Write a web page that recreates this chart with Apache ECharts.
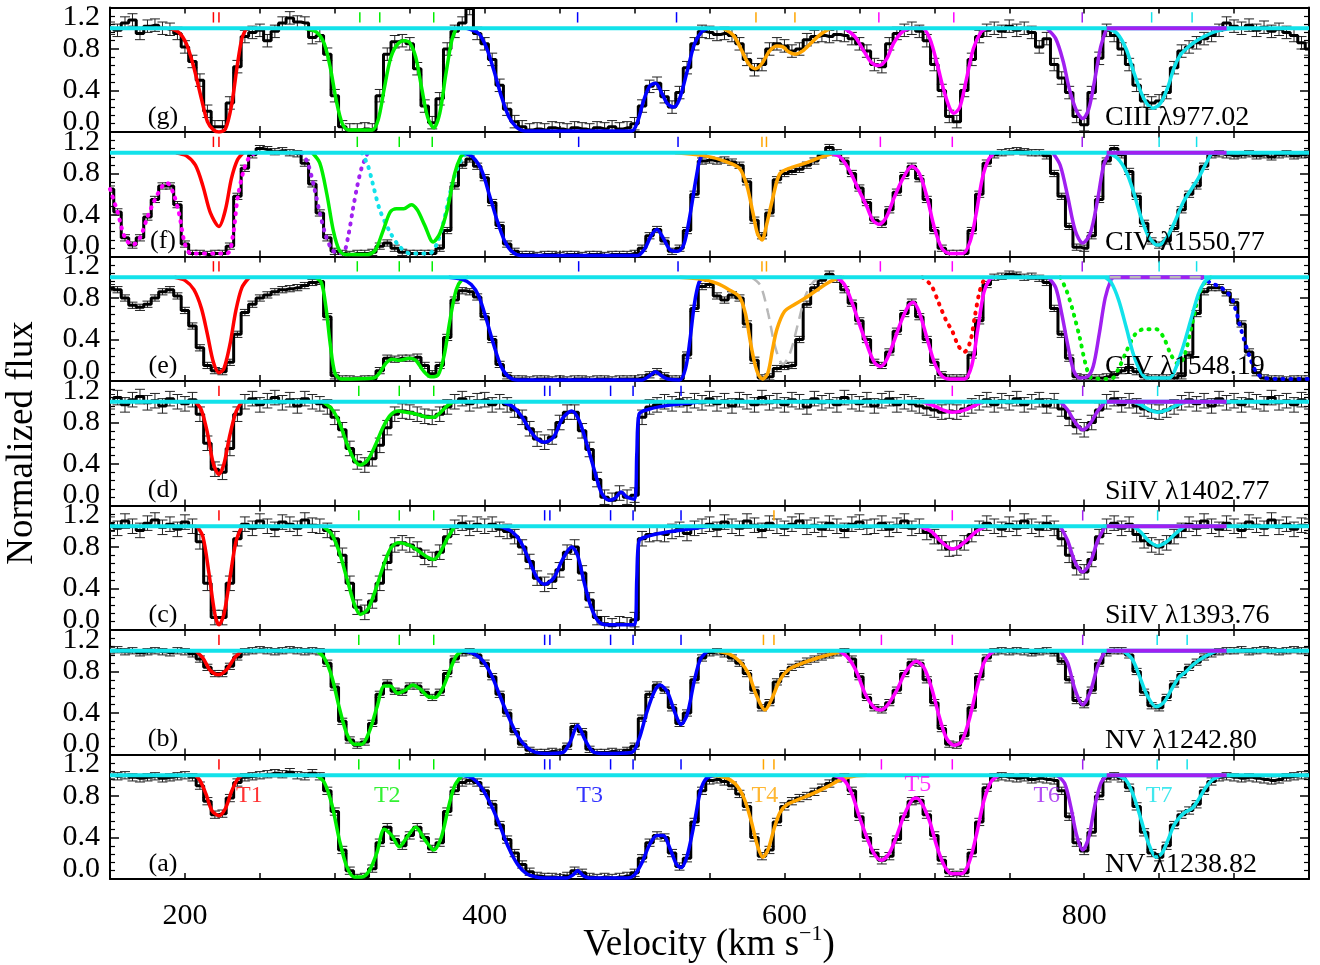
<!DOCTYPE html>
<html><head><meta charset="utf-8">
<script src="https://cdn.jsdelivr.net/npm/echarts@6/dist/echarts.min.js"></script>
<style>html,body{margin:0;padding:0;background:#fff}#c{width:1320px;height:965px}</style>
</head><body><div id="c"></div>
<script>
// ---------------- velocity grid (km/s) ----------------
const velocity = [
150,155,160,165,170,175,180,185,190,195,
200,205,210,215,220,225,230,235,240,245,
250,255,260,265,270,275,280,285,290,295,
300,305,310,315,320,325,330,335,340,345,
350,355,360,365,370,375,380,385,390,395,
400,405,410,415,420,425,430,435,440,445,
450,455,460,465,470,475,480,485,490,495,
500,505,510,515,520,525,530,535,540,545,
550,555,560,565,570,575,580,585,590,595,
600,605,610,615,620,625,630,635,640,645,
650,655,660,665,670,675,680,685,690,695,
700,705,710,715,720,725,730,735,740,745,
750,755,760,765,770,775,780,785,790,795,
800,805,810,815,820,825,830,835,840,845,
850,855,860,865,870,875,880,885,890,895,
900,905,910,915,920,925,930,935,940,945,
950];

// ---------------- observed normalized flux ----------------
const fluxG = [ // CIII 977.02
1.00,0.98,1.05,1.08,0.95,1.02,1.03,1.00,0.99,0.95,
0.82,0.68,0.50,0.20,0.05,0.05,0.28,0.63,0.92,0.96,
0.98,0.88,0.97,1.05,1.10,1.06,1.05,0.91,0.93,0.75,
0.35,0.05,0.02,0.02,0.03,0.02,0.35,0.75,0.87,0.88,
0.85,0.61,0.25,0.09,0.32,0.80,0.97,1.05,1.19,0.95,
0.85,0.70,0.45,0.22,0.10,0.05,0.02,0.03,0.02,0.04,
0.03,0.02,0.04,0.03,0.02,0.04,0.03,0.05,0.03,0.04,
0.08,0.25,0.44,0.47,0.34,0.24,0.38,0.62,0.85,0.97,
0.96,0.94,0.95,0.93,0.85,0.70,0.60,0.65,0.80,0.85,
0.83,0.78,0.80,0.89,0.92,0.93,0.92,0.94,0.93,0.90,
0.85,0.78,0.65,0.63,0.85,0.95,0.98,1.00,0.97,0.88,
0.65,0.40,0.15,0.10,0.40,0.70,0.92,0.98,1.00,0.97,
1.02,0.98,1.00,0.96,0.82,0.90,0.65,0.52,0.38,0.15,
0.07,0.38,0.71,0.98,0.93,0.80,0.65,0.45,0.30,0.28,
0.30,0.38,0.62,0.78,0.82,0.86,0.90,0.93,0.98,1.05,
1.02,1.00,1.03,0.98,1.01,0.97,0.99,0.96,0.93,0.86,
0.80];
const fluxF = [ // CIV 1550.77
0.65,0.43,0.18,0.11,0.18,0.38,0.55,0.68,0.68,0.50,
0.12,0.03,0.03,0.02,0.03,0.03,0.10,0.58,0.85,0.98,
1.04,1.03,1.01,1.02,1.00,0.99,0.90,0.70,0.42,0.18,
0.05,0.03,0.02,0.03,0.03,0.04,0.10,0.13,0.08,0.04,
0.03,0.03,0.03,0.03,0.08,0.25,0.68,0.88,0.94,0.87,
0.76,0.52,0.30,0.12,0.05,0.02,0.02,0.01,0.02,0.02,
0.01,0.02,0.02,0.01,0.02,0.02,0.01,0.02,0.02,0.02,
0.03,0.08,0.20,0.26,0.15,0.05,0.08,0.25,0.60,0.92,
0.93,0.92,0.93,0.91,0.88,0.72,0.35,0.20,0.42,0.74,
0.80,0.82,0.84,0.88,0.92,0.98,1.05,1.00,0.92,0.80,
0.66,0.52,0.35,0.31,0.45,0.62,0.78,0.87,0.75,0.55,
0.25,0.08,0.03,0.03,0.03,0.25,0.60,0.90,0.98,1.00,
1.01,1.02,1.01,1.00,1.00,0.97,0.80,0.58,0.29,0.09,
0.08,0.20,0.55,0.92,1.04,0.98,0.82,0.58,0.32,0.15,
0.11,0.15,0.27,0.45,0.60,0.68,0.87,0.98,0.99,0.98,
0.97,0.98,0.99,0.97,0.98,0.96,0.98,0.99,0.97,0.98,
0.99];
const fluxE = [ // CIV 1548.19
0.90,0.88,0.80,0.73,0.71,0.74,0.80,0.86,0.88,0.82,
0.68,0.53,0.32,0.15,0.10,0.09,0.18,0.45,0.66,0.74,
0.80,0.83,0.86,0.88,0.89,0.90,0.92,0.95,0.96,0.62,
0.05,0.02,0.02,0.01,0.02,0.02,0.10,0.22,0.21,0.22,
0.22,0.23,0.15,0.07,0.15,0.42,0.78,0.87,0.86,0.81,
0.62,0.40,0.16,0.05,0.02,0.02,0.01,0.02,0.02,0.01,
0.02,0.01,0.02,0.02,0.01,0.02,0.02,0.01,0.02,0.02,
0.02,0.03,0.06,0.09,0.05,0.02,0.02,0.25,0.70,0.91,
0.93,0.82,0.78,0.83,0.80,0.55,0.20,0.03,0.04,0.12,
0.14,0.15,0.40,0.74,0.90,0.97,1.03,0.98,0.88,0.75,
0.58,0.40,0.18,0.15,0.28,0.48,0.65,0.76,0.62,0.40,
0.18,0.06,0.03,0.03,0.03,0.25,0.58,0.93,1.00,1.01,
1.03,1.02,1.00,1.01,0.99,0.95,0.70,0.45,0.22,0.04,
0.03,0.03,0.03,0.04,0.06,0.10,0.13,0.09,0.04,0.03,
0.03,0.03,0.03,0.05,0.25,0.65,0.86,0.90,0.90,0.85,
0.76,0.55,0.28,0.08,0.03,0.02,0.02,0.01,0.02,0.02,
0.02];
const fluxD = [ // SiIV 1402.77
1.00,1.04,0.97,1.02,1.05,0.99,1.01,0.96,1.03,1.00,
0.98,1.02,0.88,0.60,0.35,0.32,0.55,0.88,1.00,1.03,
0.97,1.01,1.04,0.99,1.02,0.96,1.03,1.00,0.98,0.95,
0.85,0.73,0.55,0.42,0.39,0.45,0.58,0.75,0.88,0.91,
0.90,0.88,0.86,0.85,0.88,0.95,1.00,1.03,0.98,1.01,
1.02,0.97,1.00,0.97,0.92,0.85,0.74,0.64,0.61,0.66,
0.80,0.90,0.90,0.72,0.54,0.25,0.08,0.05,0.12,0.08,
0.10,0.85,0.95,0.97,1.00,0.98,1.02,0.97,1.01,0.99,
1.03,0.98,1.01,0.96,1.02,1.00,0.97,1.04,0.99,1.01,
0.97,1.02,1.00,0.95,1.03,0.99,1.01,0.97,1.04,1.00,
0.98,1.02,0.96,1.01,1.03,0.97,1.00,0.98,0.96,0.94,
0.92,0.90,0.91,0.90,0.93,0.96,0.99,1.02,0.97,1.01,
0.99,1.03,0.97,1.00,1.02,0.96,1.01,0.93,0.84,0.76,
0.73,0.80,0.92,1.00,1.03,0.97,1.01,0.96,0.93,0.91,
0.90,0.92,0.95,0.99,1.02,0.98,1.01,0.96,1.03,0.99,
1.01,0.97,1.02,1.00,0.98,1.04,0.99,1.01,0.97,1.02,
1.00];
const fluxC = [ // SiIV 1393.76
1.02,0.98,1.05,1.00,0.96,1.03,1.06,0.99,1.02,0.97,
1.04,1.00,0.85,0.45,0.12,0.12,0.45,0.88,1.02,0.98,
1.05,1.00,0.97,1.04,1.02,0.98,1.06,1.01,1.00,0.96,
0.88,0.72,0.45,0.22,0.17,0.28,0.45,0.65,0.82,0.84,
0.82,0.78,0.70,0.68,0.75,0.90,0.99,1.03,0.98,1.02,
1.00,1.02,0.97,0.95,0.90,0.80,0.66,0.50,0.44,0.47,
0.58,0.75,0.80,0.55,0.29,0.12,0.06,0.04,0.06,0.05,
0.10,0.88,0.92,0.93,0.92,0.95,0.97,0.93,0.98,1.00,
1.02,0.97,1.04,1.00,0.98,1.05,1.01,0.96,1.03,1.00,
0.98,1.02,1.05,0.99,1.01,0.97,1.03,1.00,0.96,1.02,
1.04,0.99,1.00,1.03,0.97,1.01,1.05,0.98,1.00,0.94,
0.90,0.84,0.78,0.79,0.84,0.92,0.98,1.03,1.00,0.97,
1.02,0.98,1.05,1.00,0.97,1.03,0.98,0.88,0.72,0.60,
0.56,0.68,0.90,1.00,1.03,0.98,1.02,0.92,0.86,0.82,
0.80,0.84,0.90,0.96,1.02,0.98,1.05,1.00,0.97,1.03,
1.00,0.96,1.04,1.01,0.98,1.06,0.99,1.02,0.97,1.01,
1.00];
const fluxB = [ // NV 1242.80
1.00,1.01,0.99,1.00,0.98,0.99,1.00,0.99,0.98,1.00,
0.99,0.97,0.92,0.84,0.78,0.78,0.85,0.94,0.99,1.00,
1.01,1.00,0.99,1.00,1.01,1.00,0.99,1.00,0.99,0.88,
0.65,0.32,0.14,0.09,0.12,0.30,0.58,0.69,0.61,0.60,
0.66,0.66,0.60,0.55,0.60,0.78,0.92,0.98,0.99,0.96,
0.88,0.75,0.58,0.40,0.22,0.10,0.04,0.02,0.02,0.03,
0.02,0.08,0.27,0.22,0.05,0.02,0.02,0.03,0.02,0.04,
0.08,0.35,0.58,0.67,0.62,0.45,0.30,0.40,0.72,0.93,
0.98,0.99,0.97,0.93,0.88,0.78,0.62,0.45,0.50,0.70,
0.78,0.84,0.87,0.90,0.92,0.94,0.96,0.98,0.99,0.92,
0.75,0.55,0.45,0.43,0.50,0.62,0.78,0.89,0.88,0.72,
0.50,0.25,0.10,0.09,0.18,0.45,0.75,0.93,0.99,1.00,
0.99,1.00,0.99,0.98,0.99,1.00,0.98,0.90,0.72,0.52,
0.48,0.62,0.88,0.98,1.00,1.00,0.96,0.80,0.60,0.47,
0.45,0.55,0.68,0.77,0.84,0.89,0.94,0.97,0.99,1.00,
1.00,1.01,0.99,1.00,1.01,1.00,0.99,1.00,1.01,1.00,
1.00];
const fluxA = [ // NV 1238.82
1.00,0.99,1.00,0.98,0.97,0.98,0.99,0.97,0.98,0.99,
1.00,0.98,0.90,0.75,0.62,0.63,0.78,0.93,0.98,0.99,
1.00,1.01,1.02,1.01,1.03,1.00,0.99,1.02,0.99,0.85,
0.65,0.28,0.08,0.01,0.02,0.10,0.35,0.50,0.38,0.32,
0.42,0.50,0.40,0.29,0.35,0.65,0.85,0.93,0.95,0.93,
0.85,0.72,0.52,0.38,0.25,0.14,0.07,0.03,0.02,0.02,
0.01,0.03,0.08,0.06,0.02,0.01,0.02,0.01,0.02,0.03,
0.06,0.20,0.35,0.42,0.40,0.25,0.12,0.20,0.55,0.85,
0.95,0.96,0.94,0.90,0.82,0.70,0.40,0.22,0.28,0.55,
0.70,0.75,0.78,0.80,0.84,0.88,0.92,0.97,0.98,0.85,
0.60,0.40,0.25,0.18,0.22,0.38,0.60,0.75,0.76,0.62,
0.42,0.18,0.06,0.04,0.06,0.25,0.55,0.88,0.98,0.99,
0.98,0.97,0.98,0.96,0.97,0.96,0.95,0.85,0.60,0.35,
0.27,0.45,0.80,0.97,0.99,0.97,0.88,0.70,0.45,0.25,
0.21,0.32,0.52,0.62,0.66,0.72,0.85,0.94,0.98,0.99,
0.98,0.97,0.98,0.97,0.96,0.95,0.96,0.98,0.99,1.00,
1.01];

// 1-sigma flux errors per panel
const errG = 0.06, errF = 0.03, errE = 0.03, errD = 0.07, errC = 0.07, errB = 0.03, errA = 0.035;

// ---------------- model component profiles [velocity, flux] ----------------
const redG = [[190,1],[196,0.96],[201,0.85],[206,0.62],[211,0.32],[215,0.10],[219,0.02],[222.7,0.0],[227,0.03],[231,0.25],[235,0.65],[238,0.90],[241,1]];
const greenG = [[280,1],[288,0.96],[293,0.85],[297,0.62],[301,0.30],[305,0.08],[309,0.02],[325,0.02],[329,0.12],[333,0.42],[337,0.70],[341,0.83],[346,0.88],[350,0.86],[354,0.72],[358,0.42],[362,0.14],[366,0.04],[370,0.18],[374,0.55],[378,0.88],[381,1]];
const blueG = [[388,1],[396,0.95],[401,0.82],[406,0.60],[411,0.35],[416,0.15],[421,0.05],[427,0.01],[498,0.01],[502,0.10],[506,0.30],[510,0.44],[514,0.47],[518,0.38],[522,0.27],[526,0.24],[530,0.32],[535,0.58],[540,0.85],[545,0.97],[549,1]];
const orangeG = [[559,1],[566,0.93],[571,0.80],[576,0.66],[580.7,0.61],[585,0.66],[590,0.78],[595,0.83],[599,0.82],[603,0.77],[607,0.75],[612,0.78],[618,0.86],[624,0.94],[631,1]];
const magentaG = [[640,1],[647,0.92],[653,0.78],[658,0.67],[663,0.64],[668,0.70],[673,0.86],[679,0.97],[685,1],[692,1],[697,0.90],[702,0.65],[706,0.42],[710,0.24],[713,0.18],[717,0.24],[721,0.48],[726,0.80],[731,0.96],[735,1]];
const purpleG = [[775,1],[781,0.90],[786,0.68],[790,0.42],[795,0.20],[799,0.13],[803,0.22],[807,0.50],[811,0.82],[815,1]];
const cyanG = [[815,1],[822,0.95],[828,0.80],[833,0.58],[838,0.38],[842,0.27],[846,0.23],[851,0.28],[856,0.44],[860,0.62],[864,0.74],[868,0.80],[873,0.86],[880,0.92],[888,0.97],[899,1]];

const redF = [[194,1],[201,0.97],[207,0.88],[212,0.68],[217,0.42],[222.7,0.29],[227,0.45],[231,0.75],[235,0.93],[239,1]];
const greenF = [[285,1],[290,0.90],[294.7,0.60],[299,0.25],[303,0.06],[307,0.02],[322,0.02],[327,0.06],[332,0.24],[337,0.43],[341,0.46],[346,0.46],[351,0.50],[355,0.45],[360,0.30],[365.6,0.14],[370,0.22],[375,0.45],[380,0.80],[384,0.96],[387,1]];
const blueF = [[386,1],[392,0.96],[398,0.83],[403,0.60],[408,0.36],[413,0.16],[418,0.05],[424,0.01],[502,0.01],[507,0.08],[511,0.20],[515,0.26],[519,0.18],[524,0.06],[529,0.05],[533,0.12],[537,0.40],[541,0.75],[544,0.95],[548,1]];
const orangeF = [[527,1],[547,0.97],[560,0.92],[570,0.85],[575,0.68],[579,0.42],[582,0.22],[585,0.16],[588,0.30],[592,0.55],[597,0.80],[605,0.86],[614,0.90],[623,0.95],[632,0.99],[640,1]];
const magentaF = [[630,1],[637,0.96],[643,0.84],[649,0.66],[655,0.48],[659,0.35],[663,0.31],[668,0.38],[673,0.56],[679,0.75],[685,0.87],[690,0.80],[695,0.58],[700,0.28],[705,0.08],[710,0.03],[719,0.03],[724,0.15],[728,0.42],[732,0.75],[736,0.93],[740,1]];
const purpleF = [[779,1],[784,0.88],[789,0.58],[794,0.25],[799,0.13],[804,0.22],[809,0.55],[813,0.88],[817,1]];
const cyanF = [[815,1],[822,0.95],[828,0.82],[833,0.62],[837,0.42],[842,0.22],[847,0.12],[850,0.11],[855,0.18],[860,0.32],[866,0.52],[872,0.66],[876,0.75],[880,0.86],[885,1]];
const magentaDotF = [[150,0.65],[155,0.43],[160,0.18],[165,0.11],[170,0.18],[175,0.38],[180,0.55],[185,0.68],[188,0.71],[192,0.62],[196,0.42],[200,0.12],[204,0.03],[228,0.03],[232,0.20],[235,0.55],[239,0.82],[243,0.96],[247,1]];
const purpleDotF = [[278,1],[282,0.90],[286,0.68],[290,0.42],[294,0.20],[298,0.07],[302,0.03],[306,0.04],[309,0.20],[312,0.45],[315,0.68],[318,0.86],[322,1]];
const cyanDotF = [[318,1],[322,0.88],[325,0.72],[330,0.45],[337,0.23],[343,0.10],[350,0.03],[363,0.03],[368,0.12],[372,0.30],[377,0.62],[381,0.82],[385,0.95],[388,1]];

const redE = [[193,1],[200,0.97],[206,0.88],[211,0.70],[215,0.45],[219,0.18],[222.7,0.08],[226,0.12],[230,0.35],[234,0.68],[238,0.90],[243,1]];
const greenE = [[287,1],[291,0.95],[294,0.72],[297,0.35],[300,0.08],[304,0.02],[326,0.03],[330,0.08],[334,0.17],[338,0.21],[343,0.20],[350,0.22],[354,0.20],[359,0.10],[364,0.04],[369,0.06],[373,0.25],[377,0.60],[381,0.88],[385,0.98],[389,1]];
const blueE = [[376,1],[385,0.98],[391,0.93],[396,0.82],[401,0.60],[406,0.35],[411,0.14],[416,0.04],[422,0.01],[505,0.01],[510,0.05],[514,0.09],[518,0.05],[522,0.02],[530,0.01],[534,0.12],[537,0.40],[540,0.75],[543,0.95],[546,1]];
const orangeE = [[530,1],[545,0.98],[555,0.94],[563,0.88],[570,0.81],[574,0.65],[577,0.40],[580,0.18],[583,0.05],[585.6,0.02],[589,0.08],[592,0.30],[595,0.50],[600,0.67],[607,0.74],[615,0.81],[623,0.89],[632,0.97],[640,1]];
const magentaE = [[635,1],[640,0.93],[645,0.76],[650,0.55],[655,0.35],[660,0.18],[664,0.14],[668,0.20],[673,0.38],[678,0.58],[683,0.73],[686,0.76],[690,0.66],[695,0.42],[700,0.18],[705,0.05],[710,0.02],[720,0.02],[725,0.15],[729,0.50],[733,0.85],[737,0.98],[740,1]];
const purpleE = [[776,1],[781,0.90],[785,0.65],[789,0.35],[793,0.10],[797,0.03],[802,0.04],[806,0.14],[810,0.45],[814,0.80],[818,0.98],[820,1]];
const cyanE = [[814,1],[818,0.95],[823,0.78],[828,0.52],[833,0.25],[838,0.08],[842,0.03],[857,0.03],[861,0.12],[866,0.33],[871,0.58],[876,0.83],[880,0.95],[884,1]];
const grayDashE = [[578,1],[584,0.92],[589,0.66],[594,0.32],[599,0.16],[604,0.28],[609,0.55],[614,0.82],[619,0.95],[624,1]];
const redDotE = [[692,1],[698,0.92],[703,0.75],[708,0.58],[712,0.48],[716,0.34],[720,0.28],[724,0.38],[727,0.62],[730,0.85],[733,0.97],[736,1]];
const greenDotE = [[784,1],[788,0.88],[792,0.70],[797,0.42],[801,0.16],[805,0.03],[818,0.02],[823,0.12],[828,0.28],[834,0.45],[840,0.50],[848,0.50],[853,0.42],[858,0.25],[863,0.16],[867,0.25],[872,0.55],[877,0.85],[882,0.98],[885,1]];
const blueDotE = [[878,1],[884,0.95],[890,0.91],[895,0.86],[899,0.78],[905,0.48],[910,0.25],[915,0.08],[920,0.03],[930,0.02],[950,0.02]];

const redD = [[207,1],[211,0.92],[215,0.70],[219,0.40],[222.7,0.30],[226,0.40],[230,0.68],[234,0.90],[238,1]];
const greenD = [[292,1],[298,0.93],[303,0.80],[308,0.60],[313,0.44],[317,0.39],[322,0.44],[327,0.58],[332,0.75],[337,0.87],[342,0.91],[347,0.90],[352,0.89],[357,0.87],[362,0.85],[366,0.85],[370,0.89],[375,0.96],[379,1]];
const blueD = [[412,1],[419,0.95],[425,0.85],[430,0.73],[435,0.64],[440,0.61],[446,0.66],[452,0.84],[458,0.91],[463,0.82],[468,0.60],[473,0.35],[478,0.12],[483,0.05],[487,0.07],[491,0.13],[495,0.08],[500,0.06],[501.5,0.5],[503,0.88],[510,0.93],[525,0.97],[545,1]];
const magentaD = [[692,1],[700,0.96],[706,0.92],[712,0.90],[718,0.91],[725,0.95],[732,1]];
const purpleD = [[784,1],[789,0.92],[794,0.80],[799,0.73],[804,0.79],[809,0.91],[814,1]];
const cyanD = [[833,1],[839,0.96],[844,0.92],[849,0.90],[855,0.92],[861,0.96],[867,1]];

const redC = [[208,1],[212,0.90],[216,0.55],[220,0.15],[222.7,0.05],[226,0.15],[230,0.50],[234,0.85],[238,1]];
const greenC = [[292,1],[298,0.92],[303,0.75],[308,0.50],[313,0.25],[317,0.15],[322,0.20],[327,0.38],[332,0.60],[337,0.78],[342,0.84],[347,0.83],[352,0.80],[357,0.75],[362,0.70],[366,0.68],[370,0.74],[375,0.88],[380,1]];
const blueC = [[410,1],[418,0.95],[424,0.85],[430,0.66],[435,0.50],[440,0.44],[446,0.50],[452,0.68],[458,0.80],[462,0.72],[466,0.48],[471,0.22],[476,0.08],[481,0.05],[500,0.05],[501.5,0.5],[503,0.86],[508,0.90],[520,0.94],[535,0.97],[550,1]];
const magentaC = [[690,1],[698,0.95],[704,0.86],[709,0.80],[712,0.78],[716,0.80],[722,0.87],[728,0.95],[735,1]];
const purpleC = [[784,1],[789,0.86],[794,0.65],[799,0.56],[804,0.65],[809,0.86],[814,1]];
const cyanC = [[833,1],[838,0.94],[843,0.86],[849,0.81],[855,0.85],[861,0.93],[867,1]];

const redB = [[207,1],[212,0.93],[217,0.81],[222.7,0.77],[228,0.82],[233,0.93],[238,1]];
const greenB = [[288,1],[293,0.93],[298,0.75],[303,0.45],[308,0.20],[313,0.10],[318,0.10],[323,0.22],[328,0.45],[333,0.66],[337,0.66],[342,0.59],[347,0.62],[352,0.67],[357,0.63],[362,0.56],[367,0.55],[372,0.64],[377,0.82],[381,0.95],[385,1]];
const blueB = [[386,1],[393,0.97],[399,0.90],[405,0.75],[410,0.57],[416,0.36],[422,0.18],[428,0.07],[434,0.02],[440,0.01],[452,0.02],[457,0.12],[462,0.28],[467,0.14],[472,0.03],[478,0.01],[498,0.02],[503,0.15],[508,0.40],[513,0.60],[517,0.67],[522,0.60],[527,0.40],[531,0.29],[535,0.38],[540,0.72],[544,0.92],[549,1]];
const orangeB = [[553,1],[563,0.97],[570,0.90],[576,0.78],[581,0.58],[587,0.43],[592,0.55],[597,0.72],[603,0.82],[612,0.88],[622,0.93],[632,0.97],[640,1]];
const magentaB = [[636,1],[642,0.94],[648,0.80],[654,0.58],[660,0.45],[664.5,0.43],[669,0.48],[675,0.62],[681,0.80],[688,0.90],[693,0.84],[698,0.65],[703,0.38],[708,0.16],[713,0.09],[718,0.12],[723,0.32],[728,0.62],[733,0.88],[738,0.98],[742,1]];
const purpleB = [[784,1],[789,0.88],[794,0.62],[799,0.48],[804,0.60],[809,0.85],[814,1]];
const cyanB = [[826,1],[832,0.92],[837,0.75],[842,0.57],[848,0.46],[853,0.50],[858,0.62],[863,0.74],[868,0.80],[873,0.87],[880,0.94],[887,0.99],[892,1]];

const redA = [[207,1],[210,0.95],[214,0.82],[218,0.66],[222.7,0.61],[227,0.68],[231,0.84],[235,0.96],[238,1]];
const greenA = [[288,1],[293,0.93],[298,0.72],[303,0.38],[308,0.12],[313,0.02],[318,0.02],[323,0.08],[328,0.25],[333,0.48],[338,0.42],[343,0.31],[348,0.40],[354,0.50],[360,0.38],[366,0.28],[371,0.40],[376,0.70],[380,0.90],[385,1]];
const blueA = [[385,1],[392,0.97],[398,0.88],[404,0.72],[410,0.52],[416,0.30],[422,0.14],[428,0.05],[434,0.02],[440,0.01],[455,0.01],[459,0.04],[462,0.08],[466,0.03],[470,0.01],[495,0.01],[500,0.04],[505,0.16],[510,0.33],[515,0.42],[519,0.42],[524,0.28],[528,0.14],[531,0.11],[535,0.22],[540,0.55],[544,0.85],[548,0.97],[555,1]];
const orangeA = [[550,1],[560,0.98],[567,0.92],[573,0.78],[578,0.55],[582,0.32],[585.6,0.21],[589,0.28],[593,0.48],[597,0.64],[602,0.72],[610,0.77],[620,0.83],[630,0.90],[638,0.96],[648,0.995],[655,1]];
const magentaA = [[633,1],[640,0.95],[645,0.82],[650,0.60],[655,0.40],[660,0.24],[664.7,0.18],[670,0.25],[675,0.42],[680,0.62],[685,0.76],[688,0.78],[692,0.72],[697,0.55],[702,0.30],[707,0.12],[712,0.05],[718,0.05],[723,0.15],[728,0.42],[733,0.75],[738,0.94],[743,1]];
const purpleA = [[782,1],[787,0.92],[791,0.70],[795,0.42],[799,0.28],[803,0.40],[807,0.70],[811,0.92],[815,1]];
const cyanA = [[822,1],[828,0.95],[833,0.80],[838,0.57],[843,0.34],[848,0.21],[852,0.25],[856,0.38],[860,0.52],[864,0.60],[868,0.65],[872,0.68],[876,0.76],[881,0.88],[886,0.96],[892,1]];

// continuum and flat T6 level
const continuum = [[150,1],[950,1]];
const purpleFlat = [[815,1],[895,1]];
const purpleFlatE = [[817,1],[880,1]];

// component velocity marks
const ticksG = [[219,'red'],[222.7,'red'],[316.7,'green'],[330,'green'],[366,'green'],[462,'blue'],[528,'blue'],[581,'orange'],[607,'orange'],[663,'magenta'],[713,'magenta'],[798.7,'purple'],[845,'cyan'],[872,'cyan']];
const ticksCIV = [[219,'red'],[222.7,'red'],[315,'green'],[343,'green'],[365,'green'],[462.7,'blue'],[529,'blue'],[585,'orange'],[588,'orange'],[664,'magenta'],[712,'magenta'],[798.7,'purple'],[850,'cyan'],[875,'cyan']];
const ticksD = [[222.7,'red'],[316,'green'],[343,'green'],[366,'green'],[440,'blue'],[443.5,'blue'],[484,'blue'],[499,'blue'],[531,'blue'],[712,'magenta'],[799,'purple'],[849,'cyan']];
const ticksC = [[222.7,'red'],[316,'green'],[343,'green'],[366,'green'],[440,'blue'],[443.5,'blue'],[484,'blue'],[499,'blue'],[531,'blue'],[593,'orange'],[712,'magenta'],[799,'purple'],[849,'cyan']];
const ticksNV = [[222.7,'red'],[316,'green'],[343,'green'],[366,'green'],[440,'blue'],[443.5,'blue'],[484,'blue'],[499,'blue'],[531,'blue'],[586,'orange'],[593,'orange'],[664.7,'magenta'],[712,'magenta'],[799,'purple'],[848.7,'cyan'],[868.7,'cyan']];

const compLabels = [
  {t:'T1', v:243, f:0.80, c:'red'}, {t:'T2', v:335, f:0.80, c:'green'},
  {t:'T3', v:470, f:0.80, c:'blue'}, {t:'T4', v:587, f:0.80, c:'orange'},
  {t:'T5', v:689, f:0.91, c:'magenta'}, {t:'T6', v:775, f:0.80, c:'purple'},
  {t:'T7', v:850, f:0.80, c:'cyan'}];

const panelLetters = ['(g)','(f)','(e)','(d)','(c)','(b)','(a)'];
const ionLabels = ['CIII \u03bb977.02','CIV \u03bb1550.77','CIV \u03bb1548.19','SiIV \u03bb1402.77','SiIV \u03bb1393.76','NV \u03bb1242.80','NV \u03bb1238.82'];

// ---------------- build ----------------
const COLORS = {red:'#ff0000', green:'#00ee00', blue:'#0000ff', orange:'#ffa500', magenta:'#ff00ff', purple:'#a020f0', cyan:'#12e2ea', gray:'#b8b8b8'};
const FONT = 'Liberation Serif';
const GL = 110, GW = 1199, T0 = 7.5, PH = 124.5;

const panels = [
 {flux:fluxG, err:errG, ticks:ticksG, models:[[redG,'red'],[greenG,'green'],[blueG,'blue'],[orangeG,'orange'],[magentaG,'magenta'],[purpleG,'purple']], cyan:cyanG, extras:[], flatE:false},
 {flux:fluxF, err:errF, ticks:ticksCIV, models:[[redF,'red'],[greenF,'green'],[blueF,'blue'],[orangeF,'orange'],[magentaF,'magenta'],[purpleF,'purple']], cyan:cyanF, extras:[[magentaDotF,'magenta','dot'],[purpleDotF,'purple','dot'],[cyanDotF,'cyan','dot']], flatE:false},
 {flux:fluxE, err:errE, ticks:ticksCIV, models:[[redE,'red'],[greenE,'green'],[blueE,'blue'],[orangeE,'orange'],[magentaE,'magenta'],[purpleE,'purple']], cyan:cyanE, extras:[[grayDashE,'gray','dash'],[redDotE,'red','dot'],[greenDotE,'green','dot'],[blueDotE,'blue','dot']], flatE:true},
 {flux:fluxD, err:errD, ticks:ticksD, models:[[redD,'red'],[greenD,'green'],[blueD,'blue'],[magentaD,'magenta'],[purpleD,'purple']], cyan:cyanD, extras:[], flatE:false},
 {flux:fluxC, err:errC, ticks:ticksC, models:[[redC,'red'],[greenC,'green'],[blueC,'blue'],[magentaC,'magenta'],[purpleC,'purple']], cyan:cyanC, extras:[], flatE:false},
 {flux:fluxB, err:errB, ticks:ticksNV, models:[[redB,'red'],[greenB,'green'],[blueB,'blue'],[orangeB,'orange'],[magentaB,'magenta'],[purpleB,'purple']], cyan:cyanB, extras:[], flatE:false},
 {flux:fluxA, err:errA, ticks:ticksNV, models:[[redA,'red'],[greenA,'green'],[blueA,'blue'],[orangeA,'orange'],[magentaA,'magenta'],[purpleA,'purple']], cyan:cyanA, extras:[], flatE:false}
];

const grids=[], xAxes=[], yAxes=[], series=[], graphics=[];
const axisLineStyle = {color:'#000', width:2};

panels.forEach((p,k)=>{
  const top = T0 + k*PH;
  grids.push({left:GL, top:top, width:GW, height:PH});
  const last = (k === panels.length-1);
  xAxes.push({type:'value', gridIndex:k, min:150, max:950, interval:50, position:'bottom',
    axisLine:{onZero:false, lineStyle:axisLineStyle},
    axisTick:{inside:true, length:6, lineStyle:{color:'#000', width:1.5}},
    axisLabel:{show:last, margin:22, fontFamily:FONT, fontSize:30, color:'#000',
      formatter: v => (Math.round(v)%200===0 ? String(Math.round(v)) : '')},
    splitLine:{show:false}});
  xAxes.push({type:'value', gridIndex:k, min:150, max:950, interval:50, position:'top',
    axisLine:{onZero:false, lineStyle:axisLineStyle},
    axisTick:{inside:true, length:6, lineStyle:{color:'#000', width:1.5}},
    axisLabel:{show:false}, splitLine:{show:false}});
  yAxes.push({type:'value', gridIndex:k, min:0, max:1.2, interval:0.4, position:'left',
    axisLine:{onZero:false, lineStyle:axisLineStyle},
    axisTick:{inside:true, length:9, lineStyle:{color:'#000', width:1.5}},
    minorTick:{show:true, splitNumber:5, length:5, lineStyle:{color:'#000', width:1.2}},
    axisLabel:{margin:10, fontFamily:FONT, fontSize:30, color:'#000',
      formatter: v => {
        const s = v.toFixed(1);
        if (Math.abs(v) < 1e-6) return '{lo|' + s + '}';
        if (Math.abs(v-1.2) < 1e-6) return '{hi|' + s + '}';
        return s;
      },
      rich:{lo:{fontFamily:FONT, fontSize:30, color:'#000', padding:[0,0,20,0]},
            hi:{fontFamily:FONT, fontSize:30, color:'#000', padding:[20,0,0,0]}}},
    splitLine:{show:false}, minorSplitLine:{show:false}});
  yAxes.push({type:'value', gridIndex:k, min:0, max:1.2, interval:0.4, position:'right',
    axisLine:{onZero:false, lineStyle:axisLineStyle},
    axisTick:{inside:true, length:9, lineStyle:{color:'#000', width:1.5}},
    minorTick:{show:true, splitNumber:5, length:5, lineStyle:{color:'#000', width:1.2}},
    axisLabel:{show:false}, splitLine:{show:false}});

  const xi = 2*k, yi = 2*k;
  const pts = velocity.map((v,i)=>[v, p.flux[i], p.err]);

  // error bars
  series.push({type:'custom', xAxisIndex:xi, yAxisIndex:yi, clip:true, silent:true, z:1,
    data: pts,
    renderItem:(params, api)=>{
      const v = api.value(0), f = api.value(1), e = api.value(2);
      const a = api.coord([v, f+e]), b = api.coord([v, f-e]);
      const hw = 5, st = {stroke:'#222', lineWidth:1};
      return {type:'group', children:[
        {type:'line', shape:{x1:a[0],y1:a[1],x2:b[0],y2:b[1]}, style:st},
        {type:'line', shape:{x1:a[0]-hw,y1:a[1],x2:a[0]+hw,y2:a[1]}, style:st},
        {type:'line', shape:{x1:b[0]-hw,y1:b[1],x2:b[0]+hw,y2:b[1]}, style:st}
      ]};
    }});
  // data histogram
  series.push({type:'line', xAxisIndex:xi, yAxisIndex:yi, data: pts.map(d=>[d[0],d[1]]),
    step:'middle', symbol:'none', silent:true, clip:true, z:2,
    lineStyle:{color:'#000', width:3}});
  // dotted / dashed other-line models
  p.extras.forEach(([d,c,t])=>{
    series.push({type:'line', xAxisIndex:xi, yAxisIndex:yi, data:d, symbol:'none', smooth:0.3, silent:true, clip:true, z:3,
      lineStyle:{color:COLORS[c], width: t==='dot'?4:2.5, type: t==='dot'?[1,7]:[11,7], cap: t==='dot'?'round':'butt'}});
  });
  // components
  p.models.forEach(([d,c])=>{
    series.push({type:'line', xAxisIndex:xi, yAxisIndex:yi, data:d, symbol:'none', smooth:0.3, silent:true, clip:true, z:4,
      lineStyle:{color:COLORS[c], width:3.5}});
  });
  // continuum
  series.push({type:'line', xAxisIndex:xi, yAxisIndex:yi, data:continuum, symbol:'none', silent:true, z:5,
    lineStyle:{color:COLORS.cyan, width:4}});
  // T7 model
  series.push({type:'line', xAxisIndex:xi, yAxisIndex:yi, data:p.cyan, symbol:'none', smooth:0.3, silent:true, clip:true, z:6,
    lineStyle:{color:COLORS.cyan, width:3.5}});
  // flat T6 level
  series.push({type:'line', xAxisIndex:xi, yAxisIndex:yi, data: p.flatE ? purpleFlatE : purpleFlat, symbol:'none', silent:true, z:7,
    lineStyle:{color:COLORS.purple, width:4}});
  if (p.flatE) {
    series.push({type:'line', xAxisIndex:xi, yAxisIndex:yi, data: purpleFlatE, symbol:'none', silent:true, z:8,
      lineStyle:{color:COLORS.gray, width:2.5, type:[11,9]}});
  }
  // component marks
  series.push({type:'custom', xAxisIndex:xi, yAxisIndex:yi, silent:true, z:9,
    data: p.ticks.map(([v,c])=>({value:[v,1.055,1.155], itemStyle:{color:COLORS[c]}})),
    renderItem:(params, api)=>{
      const a = api.coord([api.value(0), api.value(1)]), b = api.coord([api.value(0), api.value(2)]);
      return {type:'line', shape:{x1:a[0],y1:a[1],x2:b[0],y2:b[1]}, style:{stroke:api.visual('color'), lineWidth:1.5}};
    }});

  const bottom = top + PH;
  graphics.push({type:'text', x:163, y:bottom-15, style:{text:panelLetters[k], fontFamily:FONT, fontSize:26, fill:'#000', align:'center', verticalAlign:'middle'}, z:100});
  graphics.push({type:'text', x:1105, y:bottom-14, style:{text:ionLabels[k], fontFamily:FONT, fontSize:28, fill:'#000', align:'left', verticalAlign:'middle'}, z:100});
});

// component names in panel (a)
series.push({type:'scatter', xAxisIndex:12, yAxisIndex:12, symbolSize:1, silent:true, z:20,
  itemStyle:{color:'rgba(0,0,0,0)'},
  data: compLabels.map(c=>({value:[c.v,c.f], label:{show:true, position:'inside', formatter:c.t, color:COLORS[c.c], fontFamily:FONT, fontSize:24}}))});

graphics.push({type:'text', x:22, y:443, rotation:Math.PI/2,
  style:{text:'Normalized flux', fontFamily:FONT, fontSize:37, fill:'#000', align:'center', verticalAlign:'middle'}});
graphics.push({type:'text', x:709, y:945,
  style:{text:'{a|Velocity (km s}{s|\u22121}{a|)}', align:'center', verticalAlign:'middle',
    rich:{a:{fontFamily:FONT, fontSize:37, fill:'#000', lineHeight:44, verticalAlign:'middle'},
          s:{fontFamily:FONT, fontSize:22, fill:'#000', lineHeight:22, verticalAlign:'top'}}}});

const chart = echarts.init(document.getElementById('c'));
chart.setOption({animation:false, backgroundColor:'#fff', grid:grids, xAxis:xAxes, yAxis:yAxes, series:series, graphic:graphics});
</script>
</body></html>
